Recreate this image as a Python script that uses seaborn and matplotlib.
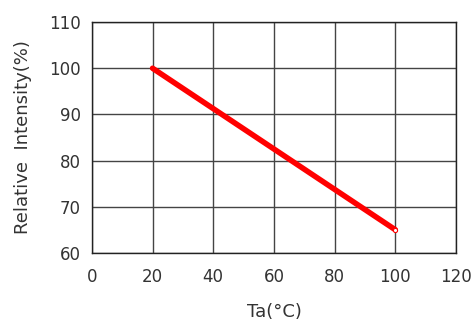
import numpy as np
import pandas as pd
import seaborn as sns
import matplotlib.pyplot as plt

# temperature vs relative intensity
temps = [20, 40, 60, 80, 100]
intensity = [100, 91.25, 82.5, 73.75, 65]
x_ticks = [0, 20, 40, 60, 80, 100, 120]
y_ticks = [60, 70, 80, 90, 100, 110]


def main():
    sns.set_style('white')
    plt.rcParams['font.family'] = ['DejaVu Sans']
    df = pd.DataFrame({'Ta': temps, 'RI': intensity})

    fig = plt.figure(figsize=(4.76, 3.25), dpi=100)
    ax = fig.add_axes([0.193, 0.222, 0.765, 0.71])

    sns.lineplot(x='Ta', y='RI', data=df, ax=ax, color='#ff0000', linewidth=4, zorder=3)
    # small open marker at the end of the curve
    ax.plot(temps[-1:], intensity[-1:], marker='o', markersize=3, markerfacecolor='white',
            markeredgecolor='#ff0000', markeredgewidth=0.8, linestyle='none', zorder=4)

    ax.set_xlim(0, 120)
    ax.set_ylim(60, 110)
    ax.set_xticks(x_ticks)
    ax.set_yticks(y_ticks)
    ax.grid(True, color='#444444', linewidth=1)
    for s in ax.spines.values():
        s.set_color('#222222')
        s.set_linewidth(1)
    ax.tick_params(axis='x', length=0, labelsize=12, colors='#333333', pad=11)
    ax.tick_params(axis='y', length=0, labelsize=12, colors='#333333', pad=8)
    ax.set_xlabel('Ta(°C)', fontsize=13, color='#333333', labelpad=12)
    ax.set_ylabel('Relative  Intensity(%)', fontsize=13, color='#333333', labelpad=12)

    fig.savefig('out.png', dpi=100)


if __name__ == '__main__':
    main()
